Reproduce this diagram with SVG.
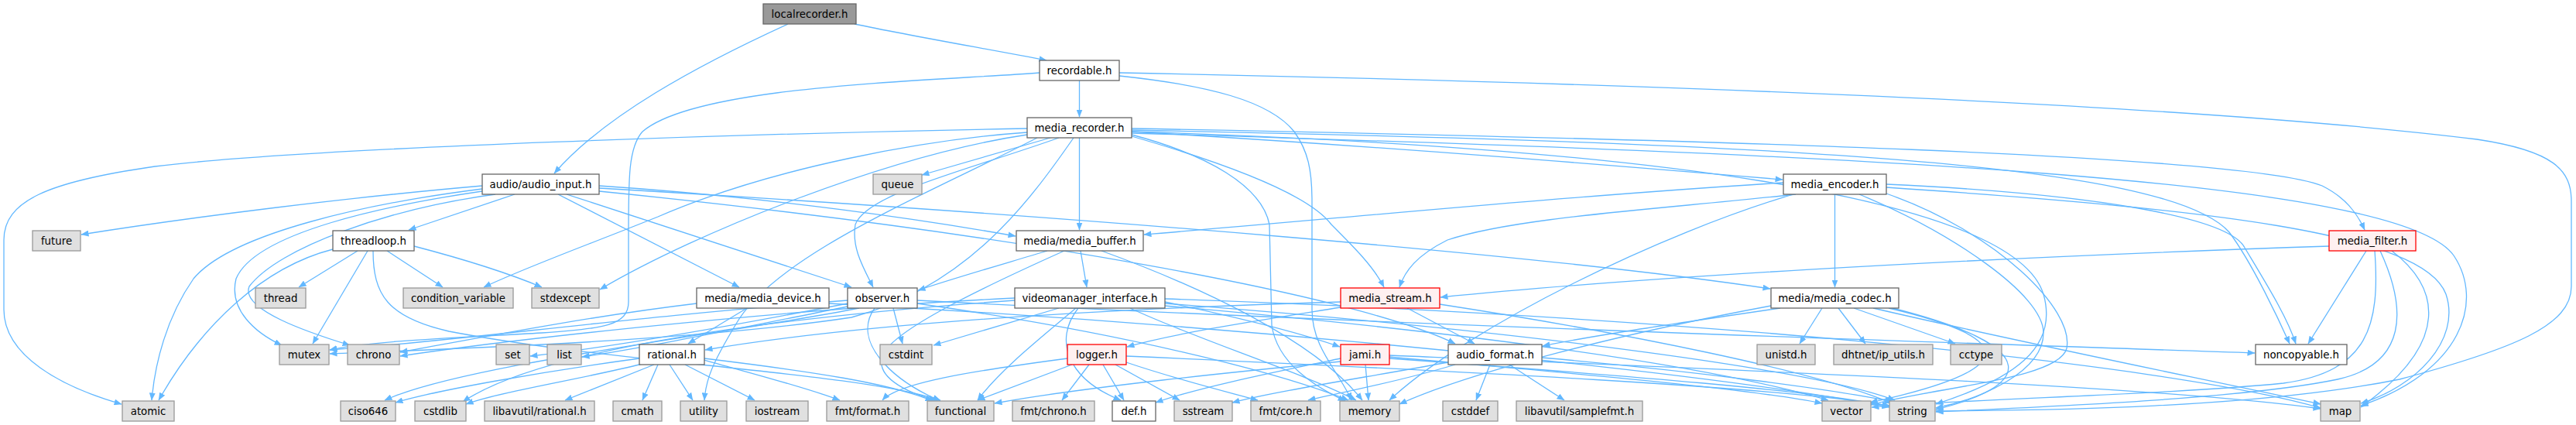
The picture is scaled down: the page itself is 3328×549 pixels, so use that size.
<svg xmlns="http://www.w3.org/2000/svg" width="3328" height="549" viewBox="0 0 3328 549">
<style>
.e{fill:none;stroke:#63b8ff;stroke-width:1.3;marker-end:url(#ah)}
.n rect{stroke-width:1.3}
.g rect{fill:#e0e0e0;stroke:#999999}
.w rect{fill:#ffffff;stroke:#666666}
.r rect{fill:#fff0f0;stroke:#ff0000}
.d rect{fill:#999999;stroke:#666666}
text{font-family:"DejaVu Sans","Liberation Sans",sans-serif;font-size:13.33px;fill:#000000;text-anchor:middle}
</style>
<defs>
<marker id="ah" viewBox="0 0 10 8" refX="9.5" refY="4" markerWidth="10" markerHeight="8" orient="auto" markerUnits="userSpaceOnUse"><path d="M0,0 L10,4 L0,8 z" fill="#63b8ff"/></marker>
</defs>
<rect width="3328" height="549" fill="#ffffff"/>
<g id="connectors">
<path class="e" d="M1018,31 C900,85 780,150 716,224"/>
<path class="e" d="M1104,31 C1180,47 1280,64 1352,78"/>
<path class="e" d="M1394.5,104 L1394.5,151"/>
<path class="e" d="M1343,94 C1200,105 900,110 830,170 C812,190 812,230 812,300 L812,390 C812,420 780,425 700,430 C600,436 480,440 426,452"/>
<path class="e" d="M1446,94 C2000,105 2800,130 3200,180 C3300,195 3322,220 3322,260 L3322,370 C3322,420 3250,450 3100,490 C2900,530 2600,530 2501,531"/>
<path class="e" d="M1446,98 C1560,110 1640,130 1672,170 C1690,195 1695,220 1695,260 L1695,400 C1695,450 1730,480 1746,517"/>
<path class="e" d="M1327,166 C1000,172 400,190 200,215 C60,235 5,260 5,310 L5,400 C5,460 80,500 157,522"/>
<path class="e" d="M1357,178 L1191,226"/>
<path class="e" d="M1327,171 C1200,180 1000,215 850,280 C750,320 680,345 625,371"/>
<path class="e" d="M1327,174 C1150,200 900,300 775,374"/>
<path class="e" d="M1340,178 C1200,250 1000,330 950,420 C920,470 912,490 910,517"/>
<path class="e" d="M1368,178 C1250,220 1120,250 1105,290 C1100,320 1115,345 1128,371"/>
<path class="e" d="M1387,178 C1330,260 1250,370 1100,410 C900,440 600,450 426,457"/>
<path class="e" d="M1394.5,178 L1394.5,297"/>
<path class="e" d="M1462,176 C1580,210 1690,250 1720,290 C1750,320 1775,345 1788,371"/>
<path class="e" d="M1462,170 C1800,190 2100,215 2303,232"/>
<path class="e" d="M1462,166 C2200,180 2900,200 3000,240 C3030,255 3045,275 3055,297"/>
<path class="e" d="M1462,168 C2300,185 2800,210 2880,300 C2910,340 2945,415 2958,444"/>
<path class="e" d="M1462,172 C2400,200 3100,230 3170,330 C3210,390 3180,480 3050,524"/>
<path class="e" d="M1462,174 C1560,200 1630,240 1640,290 L1643,420 C1650,470 1700,500 1738,518"/>
<path class="e" d="M1462,170 C2100,190 2600,250 2640,380 C2660,450 2600,490 2501,522"/>
<path class="e" d="M623,240 C450,255 250,280 105,303"/>
<path class="e" d="M623,244 C480,262 300,300 250,360 C215,410 200,470 196,517"/>
<path class="e" d="M623,247 C500,265 330,300 305,360 C295,400 330,430 364,446"/>
<path class="e" d="M640,251 C500,270 360,320 322,370 C310,400 400,430 452,446"/>
<path class="e" d="M665,251 L528,297"/>
<path class="e" d="M721,251 L955,371"/>
<path class="e" d="M732,251 L1100,371"/>
<path class="e" d="M774,240 C1000,255 1200,285 1312,305"/>
<path class="e" d="M774,243 C1400,280 2000,330 2287,373"/>
<path class="e" d="M774,247 C1300,300 1750,380 1880,444"/>
<path class="e" d="M430,322 C340,345 260,420 205,517"/>
<path class="e" d="M462,324 L386,371"/>
<path class="e" d="M475,324 L404,444"/>
<path class="e" d="M482,324 C482,380 500,410 580,428 C800,470 1100,480 1215,517"/>
<path class="e" d="M500,324 L572,371"/>
<path class="e" d="M535,318 C600,335 650,350 700,371"/>
<path class="e" d="M965,398 L889,444"/>
<path class="e" d="M900,392 C750,410 600,440 517,455"/>
<path class="e" d="M1071,392 C1600,420 2200,480 2441,526"/>
<path class="e" d="M1185,388 C1800,420 2600,445 2913,456"/>
<path class="e" d="M1154,398 L1166,444"/>
<path class="e" d="M1185,392 C1450,430 1650,480 1742,517"/>
<path class="e" d="M1095,392 C950,420 780,450 685,460"/>
<path class="e" d="M1095,396 C950,425 830,450 752,461"/>
<path class="e" d="M1095,388 C800,410 600,440 426,452"/>
<path class="e" d="M1130,398 C1100,440 1150,490 1215,518"/>
<path class="e" d="M1110,398 C950,430 600,470 497,517"/>
<path class="e" d="M1393,398 C1360,440 1380,490 1448,517"/>
<path class="e" d="M1505,390 C1600,410 1680,430 1731,448"/>
<path class="e" d="M1368,398 L1206,446"/>
<path class="e" d="M1311,388 C1000,410 700,450 598,519"/>
<path class="e" d="M1390,398 C1340,440 1290,480 1263,517"/>
<path class="e" d="M1311,385 C1000,400 650,440 517,460"/>
<path class="e" d="M1460,398 C1550,440 1680,480 1752,517"/>
<path class="e" d="M1505,395 C1900,430 2200,470 2362,517"/>
<path class="e" d="M1505,386 C2200,410 2800,470 2998,527"/>
<path class="e" d="M1505,392 C2000,430 2350,480 2448,517"/>
<path class="e" d="M1353,324 C1300,340 1230,360 1186,375"/>
<path class="e" d="M1396,324 L1404,371"/>
<path class="e" d="M1423,324 C1550,370 1700,440 1760,517"/>
<path class="e" d="M1375,324 C1250,380 1150,430 1140,460 C1130,490 1180,510 1210,517"/>
<path class="e" d="M2304,236 C2000,255 1700,285 1478,303"/>
<path class="e" d="M2320,251 C2150,270 1960,280 1870,310 C1830,330 1815,350 1808,371"/>
<path class="e" d="M2370.5,251 L2370.5,371"/>
<path class="e" d="M2437,238 C2700,250 2880,280 2900,320 C2930,370 2955,410 2966,444"/>
<path class="e" d="M2437,242 C2850,270 3130,300 3160,380 C3180,440 3120,500 3050,521"/>
<path class="e" d="M2317,251 C2150,300 1900,420 1795,517"/>
<path class="e" d="M2402,251 C2520,300 2640,380 2640,430 C2640,480 2560,515 2501,527"/>
<path class="e" d="M2437,250 C2580,300 2680,400 2670,450 C2660,490 2500,500 2417,523"/>
<path class="e" d="M2354,398 L2325,444"/>
<path class="e" d="M2375,398 L2410,444"/>
<path class="e" d="M2395,398 L2526,444"/>
<path class="e" d="M2300,398 C2150,420 2050,435 1993,447"/>
<path class="e" d="M2288,395 C2100,430 1900,480 1808,522"/>
<path class="e" d="M2440,398 C2620,440 2600,480 2416,520"/>
<path class="e" d="M2445,398 C2650,450 2620,500 2501,529"/>
<path class="e" d="M2420,398 C2600,440 2800,480 2998,522"/>
<path class="e" d="M3009,318 C2500,335 2100,360 1861,384"/>
<path class="e" d="M3057,324 L2982,444"/>
<path class="e" d="M3090,324 C3150,370 3170,440 3050,526"/>
<path class="e" d="M3068,324 C3075,420 3060,480 2950,495 C2800,510 2550,515 2418,526"/>
<path class="e" d="M3075,324 C3110,400 3110,470 3020,490 C2900,515 2650,525 2501,532"/>
<path class="e" d="M1818,398 L1905,444"/>
<path class="e" d="M1732,390 C1400,400 1100,420 911,452"/>
<path class="e" d="M1732,397 C1620,415 1520,430 1456,448"/>
<path class="e" d="M1860,393 C2100,430 2350,480 2444,521"/>
<path class="e" d="M1425,471 L1452,517"/>
<path class="e" d="M1407,471 L1372,517"/>
<path class="e" d="M1441,471 L1524,517"/>
<path class="e" d="M1455,468 C1520,490 1580,505 1625,517"/>
<path class="e" d="M1379,463 C1250,480 1160,495 1140,517"/>
<path class="e" d="M1385,471 L1263,517"/>
<path class="e" d="M1455,460 C1900,480 2300,500 2441,524"/>
<path class="e" d="M1764,471 L1768,517"/>
<path class="e" d="M1732,463 C1650,480 1550,500 1493,520"/>
<path class="e" d="M1732,467 C1600,480 1400,500 1285,521"/>
<path class="e" d="M1795,461 C2000,480 2250,500 2354,521"/>
<path class="e" d="M1795,463 C2100,485 2350,505 2441,525"/>
<path class="e" d="M1795,459 C2300,480 2800,500 2998,528"/>
<path class="e" d="M1925,471 L1907,517"/>
<path class="e" d="M1950,471 L2021,517"/>
<path class="e" d="M1880,471 C1800,495 1740,505 1690,517"/>
<path class="e" d="M1871,468 C1750,490 1650,505 1592,520"/>
<path class="e" d="M1992,462 C2200,480 2380,505 2445,519"/>
<path class="e" d="M826,463 C700,480 560,505 511,520"/>
<path class="e" d="M830,470 C750,490 650,505 602,522"/>
<path class="e" d="M845,471 L730,517"/>
<path class="e" d="M850,471 L830,517"/>
<path class="e" d="M865,471 L895,517"/>
<path class="e" d="M885,471 L975,517"/>
<path class="e" d="M910,465 C980,485 1040,500 1085,517"/>
<path class="e" d="M910,463 C1050,480 1150,495 1205,518"/>
</g>
<g id="n_localrecorder" class="n d"><rect x="986" y="5" width="120" height="26"/><text x="1046" y="22.5">localrecorder.h</text></g>
<g id="n_recordable" class="n w"><rect x="1343" y="78" width="103" height="26"/><text x="1394.5" y="95.5">recordable.h</text></g>
<g id="n_media_recorder" class="n w"><rect x="1327" y="152" width="135" height="26"/><text x="1394.5" y="169.5">media_recorder.h</text></g>
<g id="n_queue" class="n g"><rect x="1128" y="225" width="63" height="26"/><text x="1159.5" y="242.5">queue</text></g>
<g id="n_audio_input" class="n w"><rect x="623" y="225" width="151" height="26"/><text x="698.5" y="242.5">audio/audio_input.h</text></g>
<g id="n_media_encoder" class="n w"><rect x="2304" y="225" width="133" height="26"/><text x="2370.5" y="242.5">media_encoder.h</text></g>
<g id="n_future" class="n g"><rect x="42" y="298" width="62" height="26"/><text x="73" y="315.5">future</text></g>
<g id="n_threadloop" class="n w"><rect x="430" y="298" width="105" height="26"/><text x="482.5" y="315.5">threadloop.h</text></g>
<g id="n_media_buffer" class="n w"><rect x="1313" y="298" width="164" height="26"/><text x="1395" y="315.5">media/media_buffer.h</text></g>
<g id="n_media_filter" class="n r"><rect x="3009" y="298" width="112" height="26"/><text x="3065" y="315.5">media_filter.h</text></g>
<g id="n_thread" class="n g"><rect x="330" y="372" width="65" height="26"/><text x="362.5" y="389.5">thread</text></g>
<g id="n_condition_variable" class="n g"><rect x="521" y="372" width="142" height="26"/><text x="592" y="389.5">condition_variable</text></g>
<g id="n_stdexcept" class="n g"><rect x="687" y="372" width="87" height="26"/><text x="730.5" y="389.5">stdexcept</text></g>
<g id="n_media_device" class="n w"><rect x="900" y="372" width="171" height="26"/><text x="985.5" y="389.5">media/media_device.h</text></g>
<g id="n_observer" class="n w"><rect x="1095" y="372" width="90" height="26"/><text x="1140" y="389.5">observer.h</text></g>
<g id="n_videomanager_interface" class="n w"><rect x="1311" y="372" width="194" height="26"/><text x="1408" y="389.5">videomanager_interface.h</text></g>
<g id="n_media_stream" class="n r"><rect x="1732" y="372" width="128" height="26"/><text x="1796" y="389.5">media_stream.h</text></g>
<g id="n_media_codec" class="n w"><rect x="2288" y="372" width="165" height="26"/><text x="2370.5" y="389.5">media/media_codec.h</text></g>
<g id="n_mutex" class="n g"><rect x="361" y="445" width="64" height="26"/><text x="393" y="462.5">mutex</text></g>
<g id="n_chrono" class="n g"><rect x="449" y="445" width="67" height="26"/><text x="482.5" y="462.5">chrono</text></g>
<g id="n_set" class="n g"><rect x="641" y="445" width="43" height="26"/><text x="662.5" y="462.5">set</text></g>
<g id="n_list" class="n g"><rect x="707" y="445" width="44" height="26"/><text x="729" y="462.5">list</text></g>
<g id="n_rational" class="n w"><rect x="826" y="445" width="84" height="26"/><text x="868" y="462.5">rational.h</text></g>
<g id="n_cstdint" class="n g"><rect x="1137" y="445" width="67" height="26"/><text x="1170.5" y="462.5">cstdint</text></g>
<g id="n_logger" class="n r"><rect x="1379" y="445" width="76" height="26"/><text x="1417" y="462.5">logger.h</text></g>
<g id="n_jami" class="n r"><rect x="1732" y="445" width="63" height="26"/><text x="1763.5" y="462.5">jami.h</text></g>
<g id="n_audio_format" class="n w"><rect x="1871" y="445" width="121" height="26"/><text x="1931.5" y="462.5">audio_format.h</text></g>
<g id="n_unistd" class="n g"><rect x="2270" y="445" width="75" height="26"/><text x="2307.5" y="462.5">unistd.h</text></g>
<g id="n_ip_utils" class="n g"><rect x="2369" y="445" width="128" height="26"/><text x="2433" y="462.5">dhtnet/ip_utils.h</text></g>
<g id="n_cctype" class="n g"><rect x="2520" y="445" width="66" height="26"/><text x="2553" y="462.5">cctype</text></g>
<g id="n_noncopyable" class="n w"><rect x="2914" y="445" width="118" height="26"/><text x="2973" y="462.5">noncopyable.h</text></g>
<g id="n_atomic" class="n g"><rect x="158" y="518" width="67" height="26"/><text x="191.5" y="535.5">atomic</text></g>
<g id="n_ciso646" class="n g"><rect x="440" y="518" width="71" height="26"/><text x="475.5" y="535.5">ciso646</text></g>
<g id="n_cstdlib" class="n g"><rect x="536" y="518" width="66" height="26"/><text x="569" y="535.5">cstdlib</text></g>
<g id="n_lavu_rational" class="n g"><rect x="626" y="518" width="142" height="26"/><text x="697" y="535.5">libavutil/rational.h</text></g>
<g id="n_cmath" class="n g"><rect x="792" y="518" width="63" height="26"/><text x="823.5" y="535.5">cmath</text></g>
<g id="n_utility" class="n g"><rect x="879" y="518" width="60" height="26"/><text x="909" y="535.5">utility</text></g>
<g id="n_iostream" class="n g"><rect x="964" y="518" width="80" height="26"/><text x="1004" y="535.5">iostream</text></g>
<g id="n_fmt_format" class="n g"><rect x="1068" y="518" width="106" height="26"/><text x="1121" y="535.5">fmt/format.h</text></g>
<g id="n_functional" class="n g"><rect x="1198" y="518" width="86" height="26"/><text x="1241" y="535.5">functional</text></g>
<g id="n_fmt_chrono" class="n g"><rect x="1308" y="518" width="106" height="26"/><text x="1361" y="535.5">fmt/chrono.h</text></g>
<g id="n_def" class="n w"><rect x="1437" y="518" width="56" height="26"/><text x="1465" y="535.5">def.h</text></g>
<g id="n_sstream" class="n g"><rect x="1517" y="518" width="75" height="26"/><text x="1554.5" y="535.5">sstream</text></g>
<g id="n_fmt_core" class="n g"><rect x="1616" y="518" width="90" height="26"/><text x="1661" y="535.5">fmt/core.h</text></g>
<g id="n_memory" class="n g"><rect x="1731" y="518" width="77" height="26"/><text x="1769.5" y="535.5">memory</text></g>
<g id="n_cstddef" class="n g"><rect x="1864" y="518" width="71" height="26"/><text x="1899.5" y="535.5">cstddef</text></g>
<g id="n_samplefmt" class="n g"><rect x="1959" y="518" width="163" height="26"/><text x="2040.5" y="535.5">libavutil/samplefmt.h</text></g>
<g id="n_vector" class="n g"><rect x="2354" y="518" width="63" height="26"/><text x="2385.5" y="535.5">vector</text></g>
<g id="n_string" class="n g"><rect x="2441" y="518" width="59" height="26"/><text x="2470.5" y="535.5">string</text></g>
<g id="n_map" class="n g"><rect x="2998" y="518" width="51" height="26"/><text x="3023.5" y="535.5">map</text></g>
</svg>
